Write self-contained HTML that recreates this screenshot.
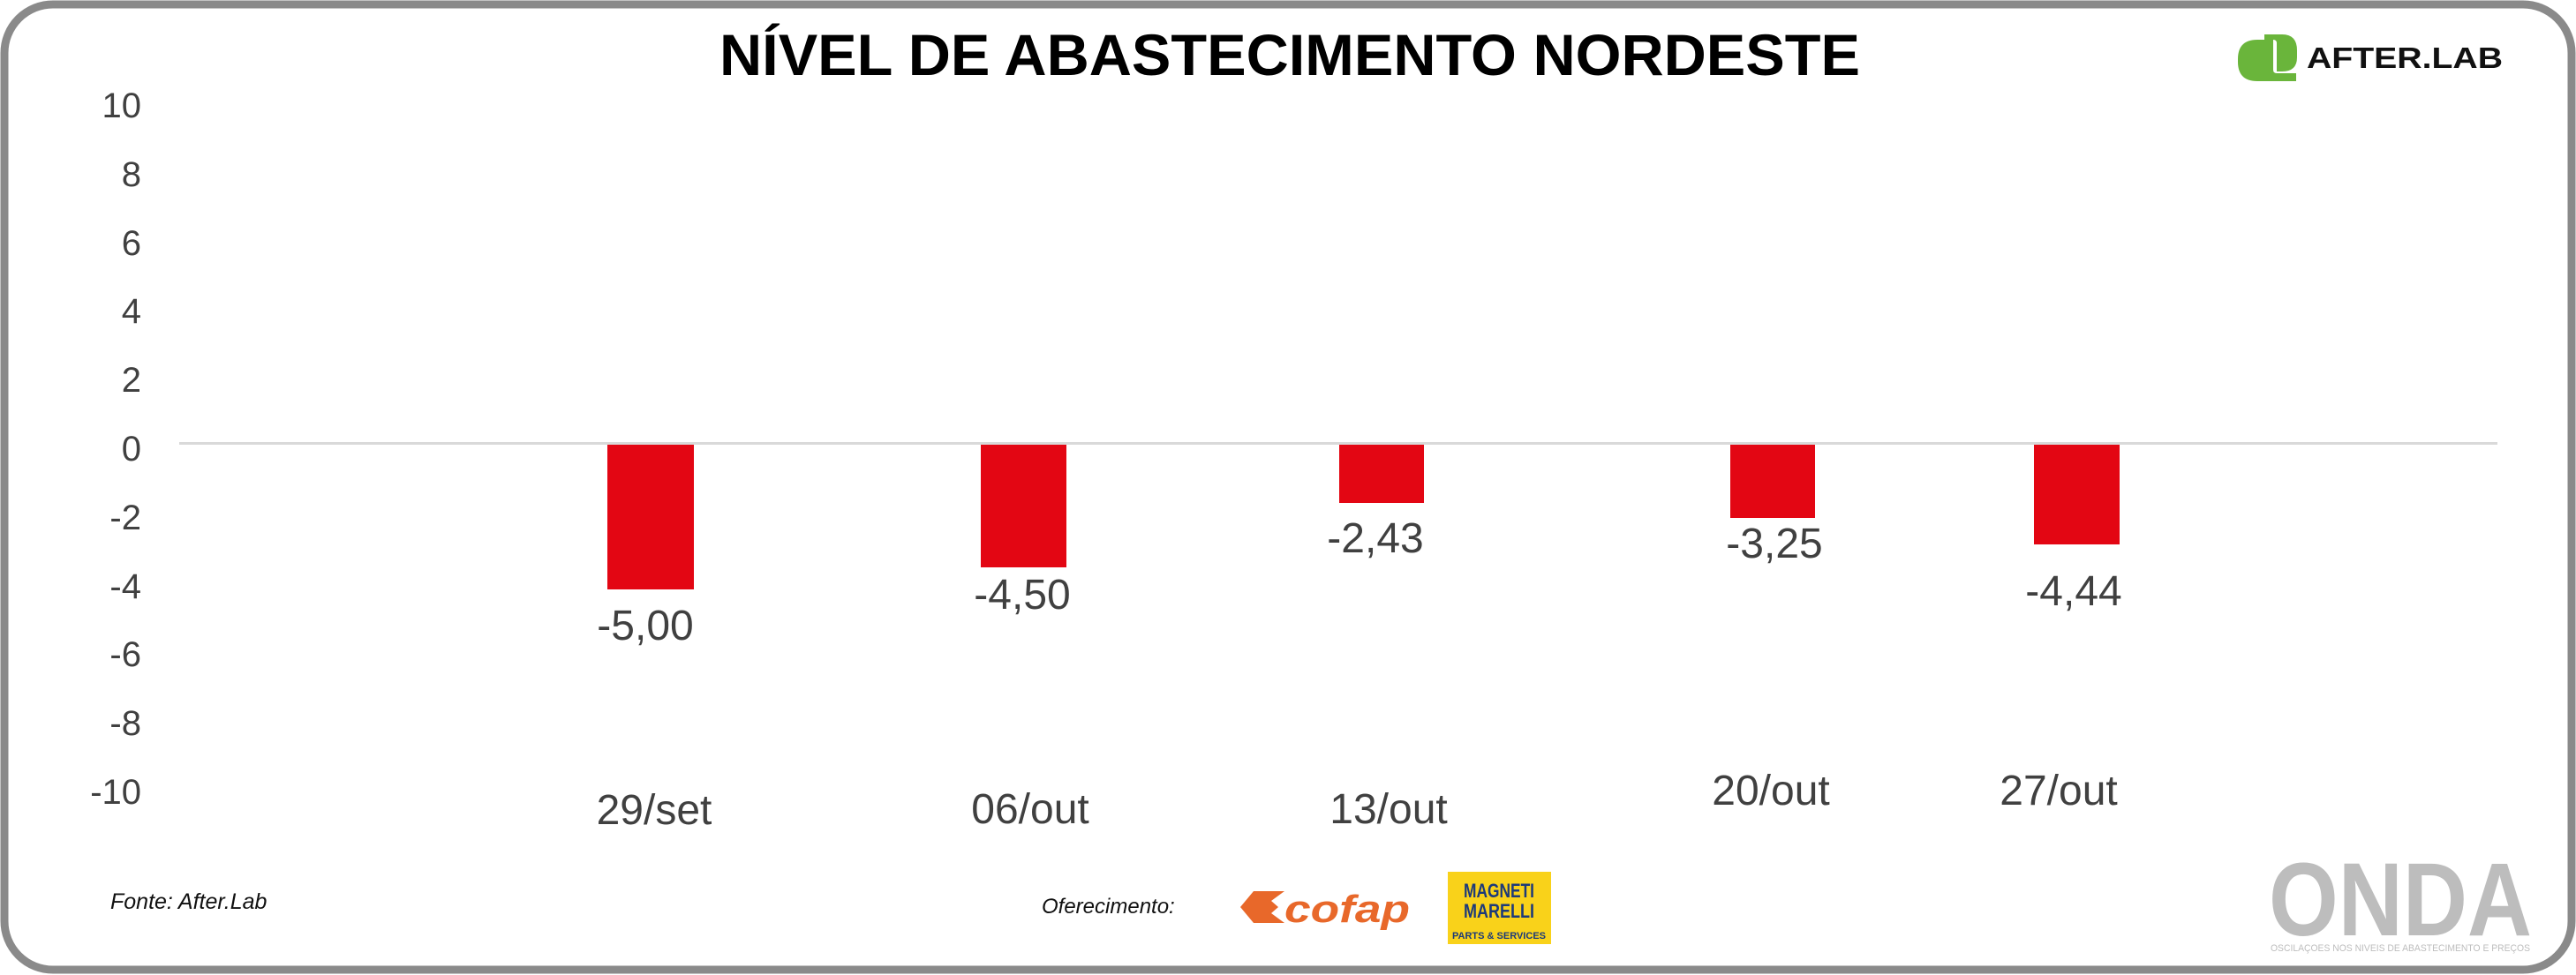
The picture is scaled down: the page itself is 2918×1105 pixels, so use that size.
<!DOCTYPE html>
<html><head><meta charset="utf-8"><style>html,body{margin:0;padding:0;background:#fff}svg{display:block}</style></head>
<body>
<svg width="2918" height="1105" viewBox="0 0 2918 1105" xmlns="http://www.w3.org/2000/svg">
<rect x="0" y="0" width="2918" height="1105" fill="#fff"/>
<rect x="5" y="5" width="2908" height="1094" rx="55" ry="55" fill="#fff" stroke="#8a8a8a" stroke-width="9"/>
<text x="1461" y="85" text-anchor="middle" font-family="Liberation Sans, sans-serif" font-weight="bold" font-size="66" textLength="1292" lengthAdjust="spacingAndGlyphs" fill="#000">NÍVEL DE ABASTECIMENTO NORDESTE</text>
<g transform="translate(2535,39)">
<path d="M22 6 H40 V40 Q40 44 44 44 H66 V53 H22 Q0 53 0 31 V28 Q0 6 22 6Z" fill="#6ab53b"/>
<path d="M30 0 H50 Q67 0 67 18 V26 Q67 42 50 42 H44 V10 Q44 6 40 6 H30Z" fill="#6ab53b"/>
</g>
<text x="2613" y="77" font-family="Liberation Sans, sans-serif" font-weight="bold" font-size="33" textLength="222" lengthAdjust="spacingAndGlyphs" fill="#111">AFTER.LAB</text>
<g font-family="Liberation Sans, sans-serif" font-size="40" fill="#404040" text-anchor="end">
<text x="160" y="133">10</text>
<text x="160" y="211">8</text>
<text x="160" y="289">6</text>
<text x="160" y="366">4</text>
<text x="160" y="444">2</text>
<text x="160" y="522">0</text>
<text x="160" y="600">-2</text>
<text x="160" y="678">-4</text>
<text x="160" y="755">-6</text>
<text x="160" y="833">-8</text>
<text x="160" y="911">-10</text>
</g>
<rect x="203" y="501" width="2626" height="3" fill="#d9d9d9"/>
<g fill="#e30613">
<rect x="688" y="504" width="98" height="164"/>
<rect x="1111" y="504" width="97" height="139"/>
<rect x="1517" y="504" width="96" height="66"/>
<rect x="1960" y="504" width="96" height="83"/>
<rect x="2304" y="504" width="97" height="113"/>
</g>
<g font-family="Liberation Sans, sans-serif" font-size="48" fill="#404040" text-anchor="middle">
<text x="731" y="725">-5,00</text>
<text x="1158" y="690">-4,50</text>
<text x="1558" y="626">-2,43</text>
<text x="2010" y="632">-3,25</text>
<text x="2349" y="686">-4,44</text>
<text x="741" y="934">29/set</text>
<text x="1167" y="933">06/out</text>
<text x="1573" y="933">13/out</text>
<text x="2006" y="912">20/out</text>
<text x="2332" y="912">27/out</text>
</g>
<text x="125" y="1030" font-family="Liberation Sans, sans-serif" font-style="italic" font-size="25" fill="#111">Fonte: After.Lab</text>
<text x="1180" y="1035" font-family="Liberation Sans, sans-serif" font-style="italic" font-size="24" fill="#111">Oferecimento:</text>
<g fill="#e8682a">
<path d="M1405 1028 L1420 1010 L1455 1010 L1440 1021 L1448 1028 L1440 1035 L1455 1046 L1420 1046Z"/>
<text x="1455" y="1045" font-family="Liberation Sans, sans-serif" font-weight="bold" font-style="italic" font-size="44" textLength="142" lengthAdjust="spacingAndGlyphs">cofap</text>
</g>
<rect x="1640" y="988" width="117" height="82" fill="#f9d21a"/>
<text x="1698" y="1017" text-anchor="middle" font-family="Liberation Sans, sans-serif" font-weight="bold" font-size="22" fill="#1d3a7a" textLength="80" lengthAdjust="spacingAndGlyphs">MAGNETI</text>
<text x="1698" y="1040" text-anchor="middle" font-family="Liberation Sans, sans-serif" font-weight="bold" font-size="22" fill="#1d3a7a" textLength="80" lengthAdjust="spacingAndGlyphs">MARELLI</text>
<text x="1698" y="1064" text-anchor="middle" font-family="Liberation Sans, sans-serif" font-weight="bold" font-size="11" fill="#1d3a7a" textLength="106" lengthAdjust="spacingAndGlyphs">PARTS &amp; SERVICES</text>
<text x="2570" y="1060" font-family="Liberation Sans, sans-serif" font-weight="bold" font-size="118" fill="#bdbdbd" textLength="298" lengthAdjust="spacingAndGlyphs">ONDA</text>
<text x="2572" y="1078" font-family="Liberation Sans, sans-serif" font-size="11" fill="#bdbdbd" textLength="294" lengthAdjust="spacingAndGlyphs">OSCILAÇOES NOS NIVEIS DE ABASTECIMENTO E PREÇOS</text>
</svg>
</body></html>
